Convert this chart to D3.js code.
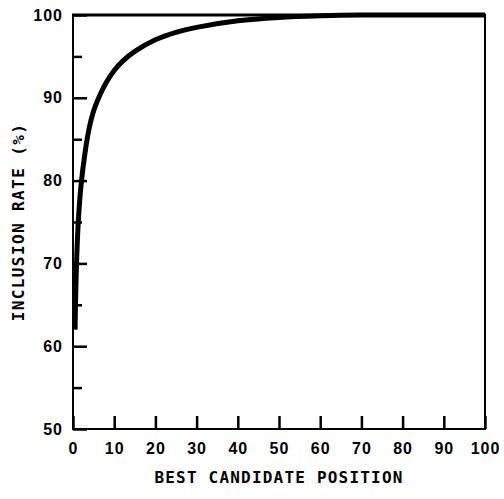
<!DOCTYPE html>
<html>
<head>
<meta charset="utf-8">
<script src="https://cdn.jsdelivr.net/npm/d3@7"></script>
<style>
  html, body { margin: 0; padding: 0; background: #fff; }
  svg text { font-weight: bold; fill: #000; }
  .tick text { font-family: "Liberation Sans", Arial, sans-serif; }
  .title { font-family: "DejaVu Sans Mono", "Liberation Mono", monospace; }
</style>
</head>
<body>
<div id="container"></div>
<script>
const width = 504;
const height = 499;
const marginTop = 15;
const marginRight = 19;
const marginBottom = 70;
const marginLeft = 73;

// curve
const position = [0.5, 0.6, 0.8, 1, 1.3, 1.9, 2.9, 4, 5, 6.5, 8, 10, 12, 15, 20, 25, 30, 40, 50, 60, 70, 80, 90, 100];
const inclusion = [62, 65, 69, 72, 75.2, 79.2, 83.3, 86.5, 88.4, 90.3, 91.8, 93.3, 94.4, 95.6, 97.0, 97.9, 98.5, 99.3, 99.7, 99.9, 100, 100, 100, 100];

const xTicks = [0, 10, 20, 30, 40, 50, 60, 70, 80, 90, 100];
const yTicks = [50, 60, 70, 80, 90, 100];
const yMinorTicks = [55, 65, 75, 85, 95];

const x = d3.scaleLinear()
  .domain([0, 100])
  .range([marginLeft, width - marginRight]);

const y = d3.scaleLinear()
  .domain([50, 100])
  .range([height - marginBottom, marginTop]);

const svg = d3.create("svg")
  .attr("width", width)
  .attr("height", height)
  .attr("viewBox", [0, 0, width, height]);

// x axis: ticks pointing inward
svg.append("g")
  .attr("transform", `translate(0,${height - marginBottom})`)
  .call(d3.axisBottom(x).tickValues(xTicks).tickSize(-13).tickPadding(14).tickSizeOuter(0))
  .call(g => g.select(".domain").remove())
  .call(g => g.selectAll(".tick line").attr("stroke-width", 2.5))
  .call(g => g.selectAll(".tick text").attr("font-size", 16).attr("letter-spacing", 1));

// y axis major
svg.append("g")
  .attr("transform", `translate(${marginLeft},0)`)
  .call(d3.axisLeft(y).tickValues(yTicks).tickSize(-14).tickPadding(10).tickSizeOuter(0))
  .call(g => g.select(".domain").remove())
  .call(g => g.selectAll(".tick line").attr("stroke-width", 2.5))
  .call(g => g.selectAll(".tick text").attr("font-size", 16).attr("letter-spacing", 1));

// y axis minor
svg.append("g")
  .attr("transform", `translate(${marginLeft},0)`)
  .call(d3.axisLeft(y).tickValues(yMinorTicks).tickSize(-9).tickFormat(""))
  .call(g => g.select(".domain").remove())
  .call(g => g.selectAll(".tick line").attr("stroke-width", 2.5));

// curve
svg.append("path")
  .datum(position.map((p, i) => [p, inclusion[i]]))
  .attr("fill", "none")
  .attr("stroke", "#000")
  .attr("stroke-width", 5)
  .attr("d", d3.line().x(d => x(d[0])).y(d => y(d[1])).curve(d3.curveCatmullRom.alpha(0.5)));

// frame
const frame = svg.append("g").attr("stroke", "#000").attr("fill", "none");
frame.append("line").attr("x1", x(0)).attr("x2", x(0)).attr("y1", y(50)).attr("y2", y(100)).attr("stroke-width", 2);
frame.append("line").attr("x1", x(100)).attr("x2", x(100)).attr("y1", y(50)).attr("y2", y(100)).attr("stroke-width", 2);
frame.append("line").attr("x1", x(0) - 1).attr("x2", x(100) + 1).attr("y1", y(50)).attr("y2", y(50)).attr("stroke-width", 2);
frame.append("line").attr("x1", x(0) - 1).attr("x2", x(100) + 1).attr("y1", y(100)).attr("y2", y(100)).attr("stroke-width", 3);

// axis titles
svg.append("text")
  .attr("class", "title")
  .attr("x", (x(0) + x(100)) / 2)
  .attr("y", 483)
  .attr("text-anchor", "middle")
  .attr("font-size", 16)
  .attr("letter-spacing", 1.2)
  .text("BEST CANDIDATE POSITION");

svg.append("text")
  .attr("class", "title")
  .attr("transform", `translate(24,${(y(50) + y(100)) / 2}) rotate(-90)`)
  .attr("text-anchor", "middle")
  .attr("font-size", 16)
  .attr("letter-spacing", 1.4)
  .text("INCLUSION RATE (%)");

document.getElementById("container").appendChild(svg.node());
</script>
</body>
</html>
